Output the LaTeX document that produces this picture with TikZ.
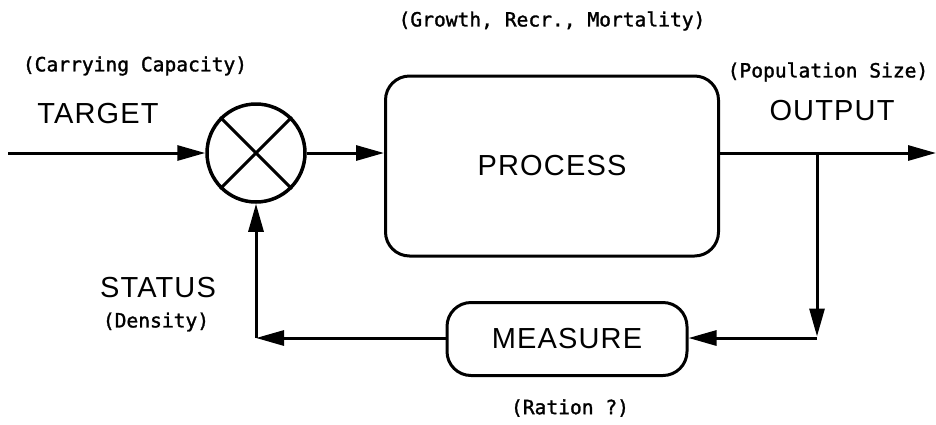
\documentclass[tikz,border=0pt]{standalone}
\usepackage{fontspec}
\usetikzlibrary{arrows.meta}
\newfontfamily\smallf[FakeBold=1.5]{DejaVu Sans Mono}
\newfontfamily\bigf[LetterSpace=4]{Liberation Sans}
\begin{document}
\begin{tikzpicture}[x=1pt,y=-1pt,
  arr/.style={line width=3pt, -{Triangle[length=28pt,width=15pt]}},
  lbl/.style={font=\smallf\fontsize{19.6}{20}\selectfont, inner sep=0pt},
  big/.style={font=\bigf\fontsize{29}{30}\selectfont, inner sep=0pt},
  box/.style={draw, line width=3pt, rounded corners=24pt, inner sep=0pt}]
\useasboundingbox (0,0) rectangle (936,424);
% blocks
\node[circle, draw, line width=3.5pt, minimum size=98pt, inner sep=0pt] (sum) at (256,153) {};
\draw[line width=3pt] (sum.45) -- (sum.225) (sum.135) -- (sum.-45);
\node[box, big, minimum width=333pt, minimum height=180pt] (proc) at (552,166) {PROCESS};
\node[box, big, minimum width=240pt, minimum height=73pt] (meas) at (567,339) {MEASURE};
% connector points
\coordinate (in) at (8,153);
\coordinate (out) at (936,153);
\coordinate (br) at (817,153);
\coordinate (brd) at (817,338);
\coordinate (fb) at (256,338);
% connectors
\draw[arr] (in) -- (sum.west);
\draw[arr] (sum.east) -- (sum.east -| proc.west);
\draw[arr] (sum.east -| proc.east) -- (out);
\draw[arr, shorten >=1.5pt] (br) -- (brd);
\draw[arr] (brd) -- (brd -| meas.east);
\draw[arr] (brd -| meas.west) -- (fb);
\draw[arr] (fb) -- (sum.south);
% labels
\node[lbl] (cc) at (135,66) {(Carrying Capacity)};
\node[big] (target) at (98,114) {TARGET};
\node[lbl] (grm) at (552,21) {(Growth, Recr., Mortality)};
\node[lbl] (pop) at (828,72) {(Population Size)};
\node[big] (output) at (832,111) {OUTPUT};
\node[big] (status) at (158,288) {STATUS};
\node[lbl] (dens) at (156,322) {(Density)};
\node[lbl] (ration) at (570,408) {(Ration ?)};
\end{tikzpicture}
\end{document}
